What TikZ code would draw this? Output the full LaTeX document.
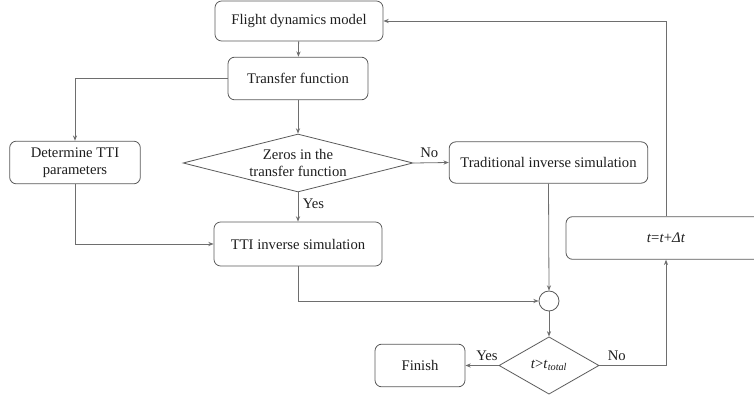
\documentclass[tikz,border=0pt]{standalone}
\usepackage{fontspec}
\setmainfont{Liberation Serif}
\usetikzlibrary{arrows.meta,positioning,shapes.geometric}
\definecolor{Edge}{HTML}{5A5A5A}
\definecolor{Wire}{HTML}{6E6E6E}
\definecolor{Ink}{HTML}{1E1E1E}
\tikzset{
  box/.style={draw=Edge,fill=white,rounded corners=5pt,line width=.6pt,align=center,text=Ink,font=\fontsize{11}{12.5}\selectfont,inner sep=2pt},
  test/.style={draw=Edge,fill=white,diamond,line width=.6pt,inner sep=0pt,align=center,text=Ink,font=\fontsize{11}{12.5}\selectfont},
  junction/.style={draw=Edge,fill=white,circle,line width=.6pt,minimum size=15pt,inner sep=0pt},
  flow/.style={-{Stealth[length=1.4mm,width=1.1mm]},draw=Wire,line width=.6pt},
  tag/.style={text=Ink,font=\fontsize{11}{12.5}\selectfont},
}
\begin{document}
\begin{tikzpicture}[x=.75pt,y=-.75pt]
  \useasboundingbox (0,0) rectangle (754,395);
  \clip (0,0) rectangle (754,395);
  \node[box,minimum width=126pt,minimum height=30pt] (fdm) at (299,21) {Flight dynamics model};
  \node[box,minimum width=105pt,minimum height=32pt] (tf) at (298,78.5) {Transfer function};
  \node[box,minimum width=98pt,minimum height=32pt] (det) at (75,162.5) {Determine TTI\\parameters};
  \node[test,aspect=3.95,minimum width=172.5pt,minimum height=43.5pt] (zeros) at (298,163) {Zeros in the\\transfer function};
  \node[box,minimum width=149pt,minimum height=31pt] (trad) at (548.5,162.5) {Traditional inverse simulation};
  \node[box,minimum width=126pt,minimum height=33pt] (tti) at (298,244) {TTI inverse simulation};
  \node[junction] (junc) at (549,301) {};
  \node[test,aspect=1.75,minimum width=75pt,minimum height=43pt] (tcheck) at (549,365.5) {\textit{t}>\textit{t}\textsubscript{\textit{total}}};
  \node[box,minimum width=67.5pt,minimum height=32pt] (finish) at (420,365.5) {Finish};
  \node[box,minimum width=150pt,minimum height=32pt] (tstep) at (666,238) {\textit{t}=\textit{t}+\textit{Δt}};

  \draw[flow] (fdm) -- (tf);
  \draw[flow] (tf.west) -| (det.north);
  \draw[flow] (tf) -- (zeros);
  \draw[flow] (zeros.east) -- node[tag,above,pos=.45] {No} (trad.west);
  \draw[flow] (zeros.south) -- node[tag,right,pos=.38] {Yes} (tti.north);
  \draw[flow] (det.south) |- (tti.west);
  \draw[flow] (tti.south) |- (junc.west);
  \draw[flow] (trad.south) -- (junc.north);
  \draw[flow] (junc.south) -- (tcheck.north);
  \draw[flow] (tcheck.west) -- node[tag,above,pos=.35] {Yes} (finish.east);
  \draw[flow] (tcheck.east) -| node[tag,above,pos=.13] {No} (tstep.south);
  \draw[flow] (tstep.north) |- (fdm.east);
\end{tikzpicture}
\end{document}
